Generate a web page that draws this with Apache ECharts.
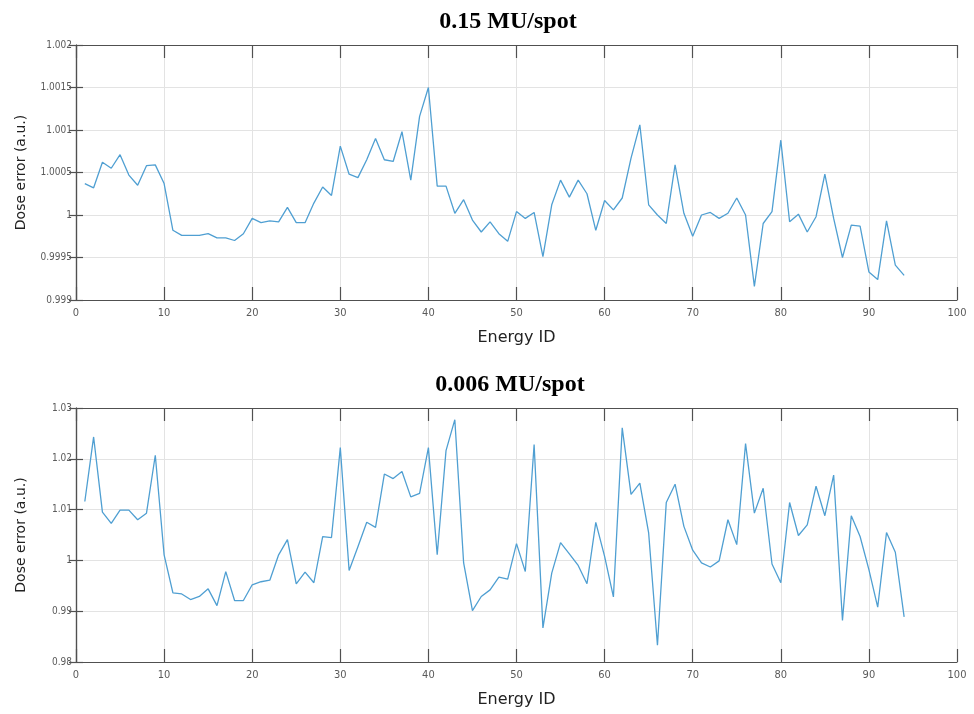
<!DOCTYPE html>
<html>
<head>
<meta charset="utf-8">
<script src="https://cdn.jsdelivr.net/npm/echarts@6/dist/echarts.min.js"></script>
<style>html,body{margin:0;padding:0;background:#fff;}#c{width:974px;height:714px;}</style>
</head>
<body>
<div id="c"></div>
<script>
const titles = ['0.15 MU/spot', '0.006 MU/spot'];
const xTicks = [0, 100, 10];
const yTicksTop = [0.999, 1.002, 0.0005];
const yTicksBottom = [0.98, 1.03, 0.01];
const energyIds = Array.from({length: 94}, (_, i) => i + 1);

const doseHigh = [
  1.00037, 1.00032, 1.00062, 1.00055, 1.00071, 1.00047, 1.00035, 1.00058, 1.00059, 1.00037,
  0.99982, 0.99976, 0.99976, 0.99976, 0.99978, 0.99973, 0.99973, 0.99970, 0.99978, 0.99996,
  0.99991, 0.99993, 0.99992, 1.00009, 0.99991, 0.99991, 1.00014, 1.00033, 1.00023, 1.00081,
  1.00048, 1.00044, 1.00065, 1.00090, 1.00065, 1.00063, 1.00098, 1.00041, 1.00116, 1.00150,
  1.00034, 1.00034, 1.00002, 1.00018, 0.99994, 0.99980, 0.99992, 0.99978, 0.99969, 1.00004,
  0.99996, 1.00003, 0.99951, 1.00012, 1.00041, 1.00021, 1.00041, 1.00025, 0.99982, 1.00017,
  1.00006, 1.00020, 1.00067, 1.00106, 1.00012, 1.00000, 0.99990, 1.00059, 1.00002, 0.99975,
  1.00000, 1.00003, 0.99996, 1.00002, 1.00020, 1.00000, 0.99916, 0.99990, 1.00004, 1.00088,
  0.99992, 1.00001, 0.99980, 0.99998, 1.00048, 0.99996, 0.99950, 0.99988, 0.99987, 0.99933,
  0.99924, 0.99993, 0.99941, 0.99929
];

const doseLow = [
  1.0116, 1.0243, 1.0095, 1.0073, 1.0099, 1.0099, 1.0080, 1.0093, 1.0207, 1.0011,
  0.9936, 0.9934, 0.9923, 0.9929, 0.9944, 0.9911, 0.9978, 0.9921, 0.9921, 0.9952,
  0.9958, 0.9961, 1.0011, 1.0041, 0.9954, 0.9977, 0.9956, 1.0047, 1.0045, 1.0222,
  0.9980, 1.0027, 1.0075, 1.0065, 1.0170, 1.0161, 1.0175, 1.0125, 1.0132, 1.0222,
  1.0011, 1.0216, 1.0277, 0.9995, 0.9901, 0.9929, 0.9942, 0.9967, 0.9963, 1.0033,
  0.9978, 1.0228, 0.9867, 0.9975, 1.0035, 1.0013, 0.9990, 0.9954, 1.0075, 1.0008,
  0.9928, 1.0261, 1.0130, 1.0152, 1.0054, 0.9833, 1.0114, 1.0150, 1.0067, 1.0020,
  0.9995, 0.9987, 0.9999, 1.0080, 1.0031, 1.0230, 1.0093, 1.0142, 0.9993, 0.9956,
  1.0114, 1.0049, 1.0070, 1.0146, 1.0088, 1.0168, 0.9882, 1.0088, 1.0047, 0.9982,
  0.9908, 1.0055, 1.0016, 0.9889
];

const chart = echarts.init(document.getElementById('c'), null, {renderer: 'canvas'});

const frameColor = '#505050';
const gridColor = '#e3e3e3';
const labelColor = '#5a5a5a';
const labelFont = "'DejaVu Sans Condensed', 'DejaVu Sans', sans-serif";

function fmt(v) { return String(Number(v.toFixed(5))); }

function xAxes(gi) {
  return [
    {
      type: 'value', gridIndex: gi, position: 'bottom',
      min: xTicks[0], max: xTicks[1], interval: xTicks[2],
      name: 'Energy ID', nameLocation: 'middle', nameGap: 30,
      nameTextStyle: {fontFamily: "'DejaVu Sans', sans-serif", fontSize: 16, color: '#222'},
      axisLine: {show: true, lineStyle: {color: frameColor, width: 1.2}},
      axisTick: {show: true, inside: true, length: 13, lineStyle: {color: frameColor, width: 1.2}},
      axisLabel: {color: labelColor, fontSize: 11, fontFamily: labelFont, margin: 8},
      splitLine: {show: true, lineStyle: {color: gridColor, width: 1}}
    },
    {
      type: 'value', gridIndex: gi, position: 'top',
      min: xTicks[0], max: xTicks[1], interval: xTicks[2],
      axisLine: {show: true, lineStyle: {color: frameColor, width: 1.2}},
      axisTick: {show: true, inside: true, length: 13, lineStyle: {color: frameColor, width: 1.2}},
      axisLabel: {show: false},
      splitLine: {show: false}
    }
  ];
}

function yAxes(gi, t) {
  return [
    {
      type: 'value', gridIndex: gi, position: 'left',
      min: t[0], max: t[1], interval: t[2],
      name: 'Dose error (a.u.)', nameLocation: 'middle', nameGap: 48, nameRotate: 90,
      nameTextStyle: {fontFamily: "'DejaVu Sans', sans-serif", fontSize: 14, color: '#222'},
      axisLine: {show: true, lineStyle: {color: frameColor, width: 1.2}},
      axisTick: {show: true, inside: true, length: 7, lineStyle: {color: frameColor, width: 1.2}},
      axisLabel: {color: labelColor, fontSize: 10, fontFamily: labelFont, margin: 4, formatter: fmt},
      splitLine: {show: true, lineStyle: {color: gridColor, width: 1}}
    },
    {
      type: 'value', gridIndex: gi, position: 'right',
      min: t[0], max: t[1], interval: t[2],
      axisLine: {show: true, lineStyle: {color: frameColor, width: 1.2}},
      axisTick: {show: true, inside: true, length: 7, lineStyle: {color: frameColor, width: 1.2}},
      axisLabel: {show: false},
      splitLine: {show: false}
    }
  ];
}

function pairs(vals) { return energyIds.map((id, i) => [id, vals[i]]); }

const option = {
  animation: false,
  backgroundColor: '#fff',
  graphic: [
    {type: 'text', left: null, x: 508, y: 22, style: {text: titles[0], x: 0, y: 0, textAlign: 'center', textVerticalAlign: 'middle', font: "bold 24px 'Liberation Serif', 'Times New Roman', serif", fill: '#000'}},
    {type: 'text', x: 510, y: 385, style: {text: titles[1], x: 0, y: 0, textAlign: 'center', textVerticalAlign: 'middle', font: "bold 24px 'Liberation Serif', 'Times New Roman', serif", fill: '#000'}}
  ],
  grid: [
    {left: 76, right: 17, top: 45, height: 255},
    {left: 76, right: 17, top: 408, height: 254}
  ],
  xAxis: [].concat(xAxes(0), xAxes(1)),
  yAxis: [].concat(yAxes(0, yTicksTop), yAxes(1, yTicksBottom)),
  series: [
    {type: 'line', xAxisIndex: 0, yAxisIndex: 0, data: pairs(doseHigh), showSymbol: false, symbol: 'none',
     lineStyle: {color: '#4f9fd2', width: 1.3}, itemStyle: {color: '#4f9fd2'}},
    {type: 'line', xAxisIndex: 2, yAxisIndex: 2, data: pairs(doseLow), showSymbol: false, symbol: 'none',
     lineStyle: {color: '#4f9fd2', width: 1.3}, itemStyle: {color: '#4f9fd2'}}
  ]
};
chart.setOption(option);
</script>
</body>
</html>
